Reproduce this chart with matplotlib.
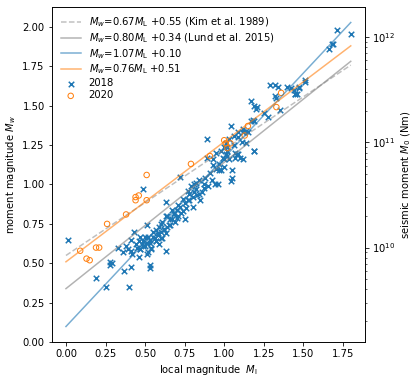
import numpy as np
import matplotlib
matplotlib.use("Agg")
import matplotlib.pyplot as plt

# values
ml_2018 = [
    0.01, 0.19, 0.25, 0.28, 0.29, 0.28, 0.37, 0.41, 0.40, 0.53, 0.53,
    0.33, 0.38, 0.41, 0.43, 0.41, 0.46, 0.47, 0.51, 0.49, 0.63, 0.63,
    0.89, 1.19, 1.05, 1.04, 0.96, 0.94, 0.97, 0.87, 0.72,
    0.89, 0.95, 0.98, 1.02, 1.08, 1.10, 1.01, 0.93,
    0.79, 0.81, 0.80, 0.78, 0.83, 0.77, 0.75, 0.85, 0.84, 0.82, 0.87,
    0.72, 0.70, 0.74, 0.68, 0.71, 0.67, 0.69, 0.66, 0.64, 0.75,
    0.62, 0.60, 0.63, 0.58, 0.55, 0.61, 0.53, 0.57, 0.51, 0.59, 0.49, 0.54, 0.47, 0.52, 0.50,
    0.47, 0.50, 0.53, 0.57, 0.60, 0.45, 0.51, 0.58, 0.62, 0.65, 0.49, 0.54,
    0.44, 0.46, 0.48, 0.52, 0.55, 0.56, 0.59, 0.61, 0.64, 0.66, 0.68, 0.70,
    0.73, 0.76, 0.78, 0.80, 0.82, 0.86, 0.88, 0.90, 0.91, 0.92, 0.93, 0.95,
    0.97, 0.99, 1.00, 1.02, 1.03, 1.06, 1.07, 1.09, 1.11, 1.12, 1.14, 1.15,
    1.29, 1.32, 1.34, 1.40, 1.42, 1.47, 1.51, 1.32, 1.33, 1.46, 1.45,
    1.17, 1.19, 1.21, 1.20, 1.35, 1.18, 1.19, 1.17, 1.04, 1.09, 1.12, 1.14,
    1.06, 1.03, 1.01, 1.00, 1.19, 1.09, 1.12, 1.07, 1.02, 1.00, 0.98, 1.05,
    1.71, 1.80, 1.66, 1.68, 1.69, 1.51, 1.47, 1.45, 1.44, 1.25, 1.28,
    0.36, 0.39, 0.42, 0.57, 0.60, 0.63, 0.67, 0.71, 0.74, 0.77, 0.81, 0.84,
]
mw_2018 = [
    0.65, 0.41, 0.35, 0.49, 0.50, 0.51, 0.45, 0.48, 0.35, 0.49, 0.47,
    0.60, 0.61, 0.65, 0.70, 0.58, 0.54, 0.67, 0.74, 0.97, 0.58, 0.89,
    1.29, 1.21, 1.09, 1.02, 1.00, 1.00, 1.09, 0.98, 1.05,
    1.17, 1.20, 1.21, 1.21, 1.19, 1.17, 1.19, 1.16,
    0.99, 0.95, 0.92, 0.94, 0.93, 0.90, 0.88, 0.90, 0.94, 1.01, 1.00,
    0.86, 0.84, 0.83, 0.81, 0.80, 0.78, 0.76, 0.74, 0.80, 0.78,
    0.72, 0.70, 0.69, 0.68, 0.67, 0.66, 0.65, 0.64, 0.63, 0.62, 0.61, 0.60, 0.59, 0.57, 0.67,
    0.59, 0.61, 0.63, 0.64, 0.66, 0.60, 0.56, 0.69, 0.71, 0.74, 0.64, 0.59,
    0.62, 0.64, 0.62, 0.67, 0.70, 0.66, 0.73, 0.76, 0.73, 0.78, 0.82, 0.79,
    0.82, 0.85, 0.90, 0.86, 0.97, 0.95, 1.04, 0.99, 1.07, 1.03, 1.12, 1.10,
    1.13, 1.17, 1.11, 1.24, 1.16, 1.25, 1.20, 1.30, 1.27, 1.33, 1.26, 1.33,
    1.63, 1.63, 1.62, 1.62, 1.61, 1.62, 1.65, 1.56, 1.55, 1.57, 1.57,
    1.53, 1.50, 1.49, 1.48, 1.47, 1.41, 1.40, 1.40, 1.37, 1.33, 1.35, 1.34,
    1.31, 1.29, 1.26, 1.24, 1.21, 1.19, 1.16, 1.17, 1.18, 1.16, 1.09, 1.04,
    1.98, 1.95, 1.86, 1.89, 1.89, 1.66, 1.61, 1.57, 1.60, 1.45, 1.43,
    0.57, 0.59, 0.56, 0.71, 0.75, 0.80, 0.84, 0.87, 0.91, 0.96, 1.00, 1.03,
]

ml_2020 = [0.09, 0.13, 0.15, 0.19, 0.21, 0.26, 0.38, 0.44, 0.44, 0.46, 0.51,
           0.51, 0.79, 0.91, 1.00, 1.01, 1.02, 1.04, 1.13, 1.36, 1.33, 1.15]
mw_2020 = [0.58, 0.53, 0.52, 0.60, 0.60, 0.75, 0.81, 0.92, 0.90, 0.93, 1.06,
           0.90, 1.13, 1.18, 1.28, 1.26, 1.23, 1.26, 1.31, 1.58, 1.49, 1.37]

# linear relations Mw = a*ML + b
rel_labels = [r"$M_w$=0.67$M_\mathrm{L}$ +0.55 (Kim et al. 1989)",
              r"$M_w$=0.80$M_\mathrm{L}$ +0.34 (Lund et al. 2015)",
              r"$M_w$=1.07$M_\mathrm{L}$ +0.10",
              r"$M_w$=0.76$M_\mathrm{L}$ +0.51"]
rel_slopes = [0.67, 0.80, 1.07, 0.76]
rel_offsets = [0.55, 0.34, 0.10, 0.51]
ml_range = [0.0, 1.8]

DPI = 72
fig = plt.figure(figsize=(416 / DPI, 382 / DPI), dpi=DPI)
ax = fig.add_axes([0.1243, 0.1039, 0.7531, 0.8786])

styles = [dict(color="grey", ls="--", alpha=0.5),
          dict(color="grey", ls="-", alpha=0.6),
          dict(color="C0", ls="-", alpha=0.6),
          dict(color="C1", ls="-", alpha=0.6)]
x_line = np.array(ml_range)
for a, b, lab, st in zip(rel_slopes, rel_offsets, rel_labels, styles):
    ax.plot(x_line, a * x_line + b, label=lab, **st)

ax.scatter(ml_2018, mw_2018, marker="x", color="C0", s=30, label="2018")
ax.scatter(ml_2020, mw_2020, marker="o", facecolors="none", edgecolors="C1", s=30,
           label="2020")

ax.set_xlim(-0.09, 1.89)
ax.set_ylim(0, 2.126)
ax.set_xlabel(r"local magnitude  $M_\mathrm{l}$")
ax.set_ylabel(r"moment magnitude $M_w$")
ax.legend(loc="upper left", frameon=False, labelspacing=0.2)

# seismic moment axis (Hanks & Kanamori)
ax2 = ax.twinx()
ax2.set_yscale("log")
lo, hi = ax.get_ylim()
ax2.set_ylim(10 ** (1.5 * lo + 9.1), 10 ** (1.5 * hi + 9.1))
ax2.set_ylabel(r"seismic moment $M_0$ (Nm)")

fig.savefig("out.png", dpi=DPI)
